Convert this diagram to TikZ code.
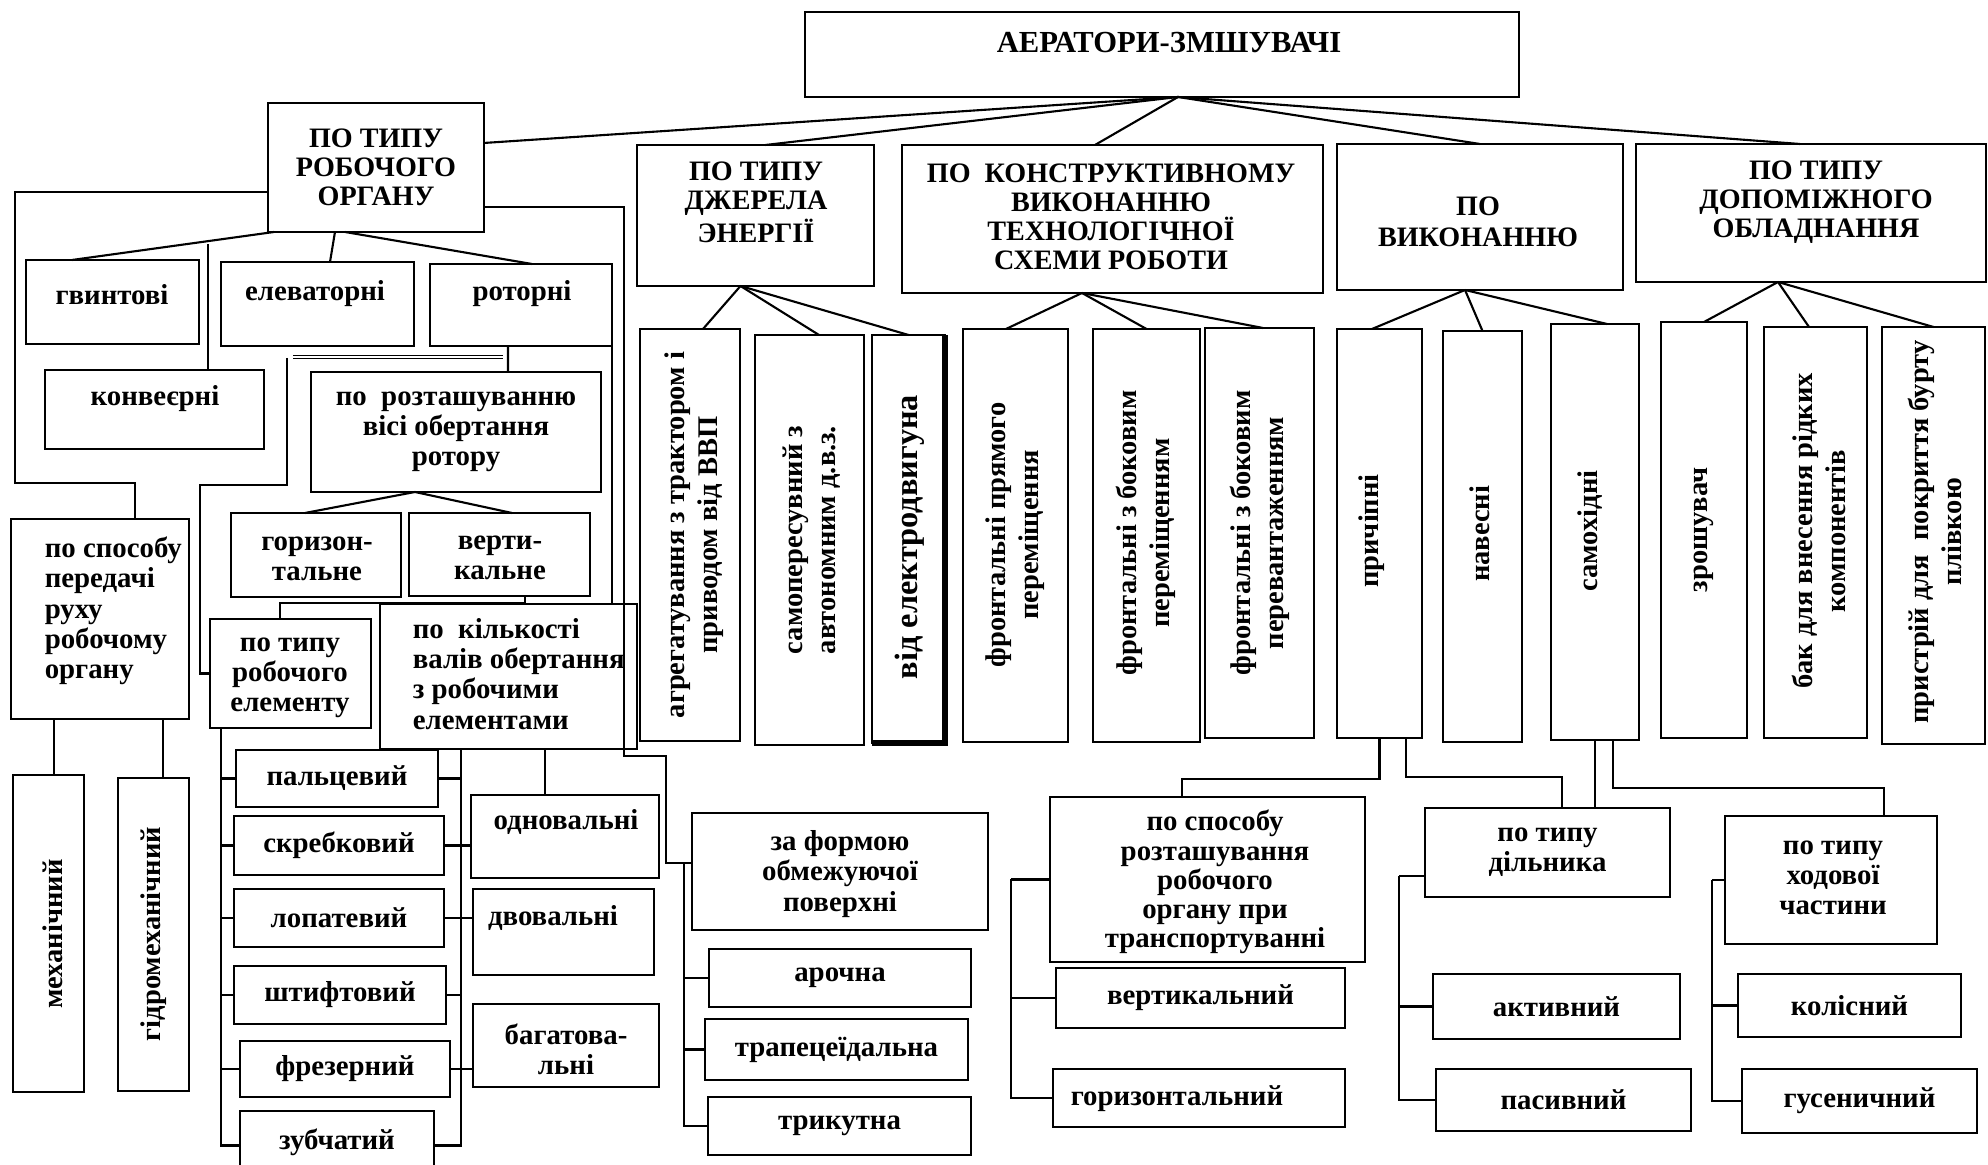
\documentclass[tikz,border=0pt]{standalone}
\usepackage{fontspec}
\setmainfont{Liberation Serif}
\usetikzlibrary{fit}

\begin{document}
\begin{tikzpicture}[x=0.01cm, y=-0.01cm, line width=0.6pt,
  box/.style={draw, inner sep=0pt, outer sep=0pt},
  hd/.style={font=\fontsize{8}{8.3}\selectfont\bfseries, align=center},
  tx/.style={font=\fontsize{8.2}{8.6}\selectfont\bfseries, align=center},
  vt/.style={font=\fontsize{8.1}{9.3}\selectfont\bfseries, align=center, rotate=90}] % units are pixels of the page

        \fill[white] (0,0) rectangle (1988,1165);
        \useasboundingbox (0,0) rectangle (1988,1165);

        % Top box and the five groups
        \node[box, fit={(805,12) (1519,97)}] (tit) {};
        \node[font=\fontsize{8.7}{9}\selectfont\bfseries] (titt) at (1169,43) {АЕРАТОРИ-ЗМШУВАЧІ};
        \node[box, fit={(268,103) (484,232)}] (robt) {};
        \node[hd] (robtt) at (robt) {ПО ТИПУ\\РОБОЧОГО\\ОРГАНУ};
        \node[box, fit={(637,145) (874,286)}] (dzh) {};
        \node[hd] (dzht) at (756,202) {ПО ТИПУ\\ДЖЕРЕЛА\\ЭНЕРГІЇ};
        \node[box, fit={(902,145) (1323,293)}] (kon) {};
        \node[hd] (kont) at (1111,217) {ПО\ \ КОНСТРУКТИВНОМУ\\ВИКОНАННЮ\\ТЕХНОЛОГІЧНОЇ\\СХЕМИ РОБОТИ};
        \node[box, fit={(1337,144) (1623,290)}] (vyk) {};
        \node[hd, font=\fontsize{8}{9}\selectfont\bfseries] (vykt) at (1478,222) {ПО\\ВИКОНАННЮ};
        \node[box, fit={(1636,144) (1986,282)}] (dop) {};
        \node[hd] (dopt) at (1816,202) {ПО ТИПУ\\ДОПОМІЖНОГО\\ОБЛАДНАННЯ};

        % Energy source
        \node[box, fit={(640,329) (740,741)}] (agreg) {};
        \node[vt] (agregt) at (694,535) {агрегатування з трактором і\\приводом від ВВП};
        \node[box, fit={(755,335) (864,745)}] (samop) {};
        \node[vt] (samopt) at (812,540) {самопересувний з\\автономним д.в.з.};
        \node[box, fit={(872,335) (945,743)}] (elektr) {};
        \node[vt, font=\fontsize{9.2}{9.5}\selectfont\bfseries] (elektrt) at (910,537) {від електродвигуна};

        % Technological scheme
        \node[box, fit={(963,329) (1068,742)}] (fr1) {};
        \node[vt] (fr1t) at (1015,535) {фронтальні прямого\\переміщення};
        \node[box, fit={(1093,329) (1200,742)}] (fr2) {};
        \node[vt] (fr2t) at (1146,533) {фронтальні з боковим\\переміщенням};
        \node[box, fit={(1205,328) (1314,738)}] (fr3) {};
        \node[vt] (fr3t) at (1260,533) {фронтальні з боковим\\перевантаженням};

        % Execution
        \node[box, fit={(1337,329) (1422,738)}] (prych) {};
        \node[vt] (prycht) at (1372,531) {причіпні};
        \node[box, fit={(1443,331) (1522,742)}] (naves) {};
        \node[vt] (navest) at (1480,534) {навесні};
        \node[box, fit={(1551,324) (1639,740)}] (samoh) {};
        \node[vt] (samoht) at (1590,531) {самохідні};

        % Auxiliary equipment
        \node[box, fit={(1661,322) (1747,738)}] (zrosh) {};
        \node[vt] (zrosht) at (1704,530) {зрошувач};
        \node[box, fit={(1764,327) (1867,738)}] (bak) {};
        \node[vt] (bakt) at (1819,531) {бак для внесення рідких\\компонентів};
        \node[box, fit={(1882,327) (1985,744)}] (prystr) {};
        \node[vt] (prystrt) at (1935,532) {пристрій для\ \ покриття бурту\\плівкою};

        % Working organ, left part
        \node[box, fit={(26,260) (199,344)}] (gvynt) {};
        \node[tx] (gvyntt) at (112,295) {гвинтові};
        \node[box, fit={(221,262) (414,346)}] (elev) {};
        \node[tx] (elevt) at (315,294) {елеваторні};
        \node[box, fit={(430,264) (612,346)}] (rotor) {};
        \node[tx] (rotort) at (522,294) {роторні};
        \node[box, fit={(45,370) (264,449)}] (konv) {};
        \node[tx] (konvt) at (155,399) {конвеєрні};
        \node[box, fit={(311,372) (601,492)}] (roz) {};
        \node[tx] (rozt) at (roz) {по\ \ розташуванню\\вісі обертання\\ротору};
        \node[box, fit={(231,513) (401,597)}] (hor) {};
        \node[tx] (hort) at (317,559) {горизон-\\тальне};
        \node[box, fit={(409,513) (590,596)}] (ver) {};
        \node[tx] (vert) at (500,558) {верти-\\кальне};
        \node[box, fit={(11,519) (189,719)}] (spos) {};
        \node[tx, align=left, anchor=west] (spost) at (32,611) {по способу\\передачі\\руху\\робочому\\органу};
        \node[box, fit={(210,619) (371,728)}] (elem) {};
        \node[tx] (elemt) at (290,678) {по типу\\робочого\\елементу};
        \node[box, fit={(380,604) (637,749)}] (kilk) {};
        \node[tx, align=left, anchor=west] (kilkt) at (400,674) {по\ \ кількості\\валів обертання\\з робочими\\елементами};
        \node[box, fit={(13,775) (84,1092)}] (mech) {};
        \node[vt] (mecht) at (53,934) {механічний};
        \node[box, fit={(118,778) (189,1091)}] (gidr) {};
        \node[vt] (gidrt) at (154,934) {гідромеханічний};

        \node[box, fit={(236,750) (438,807)}] (palc) {};
        \node[tx] (palct) at (palc) {пальцевий};
        \node[box, fit={(234,816) (444,875)}] (skreb) {};
        \node[tx] (skrebt) at (skreb) {скребковий};
        \node[box, fit={(234,889) (444,947)}] (lopat) {};
        \node[tx] (lopatt) at (lopat) {лопатевий};
        \node[box, fit={(234,966) (446,1024)}] (shtyf) {};
        \node[tx] (shtyft) at (shtyf) {штифтовий};
        \node[box, fit={(240,1041) (450,1097)}] (frez) {};
        \node[tx] (frezt) at (frez) {фрезерний};
        \node[box, fit={(240,1111) (434,1180)}] (zub) {};
        \node[tx] (zubt) at (337,1142) {зубчатий};
        \node[box, fit={(471,795) (659,878)}] (odno) {};
        \node[tx] (odnot) at (566,822) {одновальні};
        \node[box, fit={(473,889) (654,975)}] (dvov) {};
        \node[tx] (dvovt) at (553,918) {двовальні};
        \node[box, fit={(473,1004) (659,1087)}] (bagat) {};
        \node[tx] (bagatt) at (566,1049) {багатова-\\льні};

        % Lower middle and right
        \node[box, fit={(692,813) (988,930)}] (zaform) {};
        \node[tx] (zaformt) at (840,874) {за формою\\обмежуючої\\поверхні};
        \node[box, fit={(709,949) (971,1007)}] (arochna) {};
        \node[tx] (arochnat) at (arochna) {арочна};
        \node[box, fit={(705,1019) (968,1080)}] (trapec) {};
        \node[tx] (trapect) at (trapec) {трапецеїдальна};
        \node[box, fit={(708,1097) (971,1155)}] (tryk) {};
        \node[tx] (trykt) at (tryk) {трикутна};
        \node[box, fit={(1050,797) (1365,962)}] (sposr) {};
        \node[tx, font=\fontsize{8.2}{8.3}\selectfont\bfseries] (sposrt) at (1215,882) {по способу\\розташування\\робочого\\органу при\\транспортуванні};
        \node[box, fit={(1056,968) (1345,1028)}] (vertk) {};
        \node[tx] (vertkt) at (vertk) {вертикальний};
        \node[box, fit={(1053,1069) (1345,1127)}] (horiz) {};
        \node[tx] (horizt) at (1177,1099) {горизонтальний};
        \node[box, fit={(1425,808) (1670,897)}] (diln) {};
        \node[tx] (dilnt) at (diln) {по типу\\дільника};
        \node[box, fit={(1433,974) (1680,1039)}] (aktyv) {};
        \node[tx] (aktyvt) at (aktyv) {активний};
        \node[box, fit={(1436,1069) (1691,1131)}] (pasyv) {};
        \node[tx] (pasyvt) at (pasyv) {пасивний};
        \node[box, fit={(1725,816) (1937,944)}] (khod) {};
        \node[tx] (khodt) at (1833,878) {по типу\\ходової\\частини};
        \node[box, fit={(1738,974) (1961,1037)}] (koles) {};
        \node[tx] (kolest) at (koles) {колісний};
        \node[box, fit={(1742,1069) (1977,1133)}] (gusen) {};
        \node[tx] (gusent) at (gusen) {гусеничний};

        % Lines from the top box
        \coordinate (tophub) at ([xshift=0.16cm]tit.south);
        \draw (tophub) -- ([yshift=0.245cm]robt.east);
        \draw (tophub) -- ([xshift=0.1cm]dzh.north);
        \draw (tophub) -- ([xshift=-0.175cm]kon.north);
        \draw (tophub) -- (vyk.north);
        \draw (tophub) -- ([xshift=-0.11cm]dop.north);

        % Fans below the groups
        \coordinate (dzhhub) at ([xshift=-0.15cm]dzh.south);
        \draw (dzhhub) -- ([xshift=0.13cm]agreg.north);
        \draw (dzhhub) -- ([xshift=0.095cm]samop.north);
        \draw (dzhhub) -- (elektr.north);
        \draw[line width=1.6pt] (elektr.north east) -- (elektr.south east) -- (elektr.south west);

        \coordinate (konhub) at ([xshift=-0.305cm]kon.south);
        \draw (konhub) -- ([xshift=-0.095cm]fr1.north);
        \draw (konhub) -- (fr2.north);
        \draw (konhub) -- ([xshift=0.035cm]fr3.north);

        \coordinate (vykhub) at ([xshift=-0.15cm]vyk.south);
        \draw (vykhub) -- ([xshift=-0.075cm]prych.north);
        \draw (vykhub) -- (naves.north);
        \draw (vykhub) -- ([xshift=0.12cm]samoh.north);

        \coordinate (dophub) at ([xshift=-0.33cm]dop.south);
        \draw (dophub) -- (zrosh.north);
        \draw (dophub) -- ([xshift=-0.065cm]bak.north);
        \draw (dophub) -- (prystr.north);

        % Working organ branches
        \draw ([xshift=0.06cm]robt.south west) -- ([xshift=-0.405cm]gvynt.north);
        \draw ([xshift=0.535cm]konv.north) -- ++(0,-126);
        \draw ([xshift=-0.41cm]robt.south) -- ([xshift=0.125cm]elev.north);
        \draw ([xshift=-0.31cm]robt.south) -- ([xshift=0.11cm]rotor.north);
        \draw ([yshift=-0.245cm]robt.west) -- ++(-253,0) -- ++(0,291) -| ([xshift=0.35cm]spos.north);
        \draw ([xshift=0.055cm]mech.north) -- ++(0,-56);
        \draw ([xshift=0.095cm]gidr.north) -- ++(0,-59);

        \draw ([xshift=-0.13cm]rotor.south) -- ([xshift=0.52cm]roz.north);
        \draw[double, double distance=0.5pt, line width=0.4pt] ([xshift=-0.18cm,yshift=-0.11cm]rotor.south) -- ++(-210,0);
        \draw ([xshift=-0.24cm]roz.north west) ++(0,-14) -- ++(0,127) -| ([xshift=-0.1cm]elem.west) -- (elem.west);
        \draw (rotor.south east) -- (rotor.south east |- kilk.north);

        \coordinate (rozhub) at ([xshift=-0.41cm]roz.south);
        \draw (rozhub) -- ([xshift=-0.11cm]hor.north);
        \draw (rozhub) -- ([xshift=0.125cm]ver.north);
        \draw ([xshift=0.255cm]ver.south) -- ++(0,7) -| ([xshift=-0.105cm]elem.north);

        \draw ([yshift=-0.395cm]robt.east) -- ++(140,0) -- ++(0,549) -- ++(42,0) |- ([yshift=0.085cm]zaform.west);

        % Spine of the working element types
        \coordinate (es) at ([xshift=0.11cm]elem.south west);
        \draw (es) |- (palc.west);
        \draw (es) |- (skreb.west);
        \draw (es) |- (lopat.west);
        \draw (es) |- (shtyf.west);
        \draw (es) |- (frez.west);
        \draw (es) |- (zub.west);

        % Spine of the shaft count
        \coordinate (ks) at ([xshift=0.81cm]kilk.south west);
        \draw (ks) |- (palc.east);
        \draw (ks) |- (skreb.east);
        \draw (ks) |- (lopat.east);
        \draw (ks) |- (shtyf.east);
        \draw (ks) |- (frez.east);
        \draw (ks) |- (zub.east);
        \draw (skreb.east) -- (skreb.east -| odno.west);
        \draw (lopat.east) -- (lopat.east -| dvov.west);
        \draw (frez.east) -- (frez.east -| bagat.west);
        \draw ([xshift=-0.2cm]odno.north) -- ++(0,-46);

        \coordinate (zf) at ([xshift=-0.08cm,yshift=0.085cm]zaform.west);
        \draw (zf) |- (arochna.west);
        \draw (zf) |- (trapec.west);
        \draw (zf) |- (tryk.west);

        % Below the execution boxes
        \draw (prych.south) -- ++(0,41) -| ([xshift=-0.255cm]sposr.north);
        \draw ([xshift=0.265cm]prych.south) -- ++(0,39) -| ([xshift=0.145cm]diln.north);
        \draw (samoh.south) -- (samoh.south |- diln.north);
        \draw ([xshift=0.18cm]samoh.south) -- ++(0,48) -| ([xshift=0.53cm]khod.north);

        \coordinate (sp) at ([xshift=-0.39cm]sposr.west);
        \draw (sp) -- (sposr.west);
        \draw (sp) |- (vertk.west);
        \draw (sp) |- (horiz.west);

        \coordinate (dl) at ([xshift=-0.26cm,yshift=-0.235cm]diln.west);
        \draw (dl) -- ([yshift=-0.235cm]diln.west);
        \draw (dl) |- (aktyv.west);
        \draw (dl) |- (pasyv.west);

        \coordinate (kh) at ([xshift=-0.13cm]khod.west);
        \draw (kh) -- (khod.west);
        \draw (kh) |- (koles.west);
        \draw (kh) |- (gusen.west);
        \end{tikzpicture}
\end{document}
